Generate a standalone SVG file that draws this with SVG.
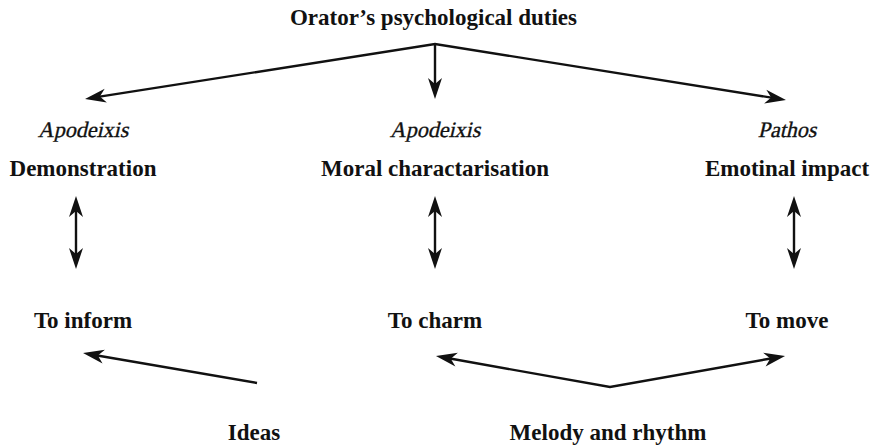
<svg xmlns="http://www.w3.org/2000/svg" width="875" height="448" viewBox="0 0 875 448">
<style>
  text { font-family: "Liberation Serif", "Times New Roman", serif; font-size: 23px; fill: #111; text-anchor: middle; }
  .b { font-weight: bold; }
  .i { font-size: 22px; stroke: #111; stroke-width: 0.35; }
  .c { stroke: #111; stroke-width: 2.4; fill: none; }
</style>
<defs>
  <marker id="ah" markerUnits="userSpaceOnUse" markerWidth="28" markerHeight="18" viewBox="-14 -9 28 18" refX="0" refY="0" orient="auto-start-reverse">
    <path d="M10,0 L-11,-7 L-5,0 L-11,7 Z" fill="#111"/>
  </marker>
</defs>
<g id="title"><text class="b" x="433.5" y="25">Orator’s psychological duties</text></g>
<g id="demonstration"><text class="i" transform="translate(83,137) skewX(-13)">Apodeixis</text><text class="b" x="83" y="176">Demonstration</text></g>
<g id="moral"><text class="i" transform="translate(435,137) skewX(-13)">Apodeixis</text><text class="b" x="435" y="176">Moral charactarisation</text></g>
<g id="emotional"><text class="i" transform="translate(787,137) skewX(-13)">Pathos</text><text class="b" x="787" y="176">Emotinal impact</text></g>
<g id="inform"><text class="b" x="83" y="328">To inform</text></g>
<g id="charm"><text class="b" x="435" y="328">To charm</text></g>
<g id="move"><text class="b" x="787" y="328">To move</text></g>
<g id="ideas"><text class="b" x="254" y="440">Ideas</text></g>
<g id="melody"><text class="b" x="608" y="440">Melody and rhythm</text></g>
<g id="connectors">
  <polyline class="c" points="94.9,97.4 435,44 776.1,98.4" marker-start="url(#ah)" marker-end="url(#ah)"/>
  <line class="c" x1="435" y1="44" x2="435" y2="89" marker-end="url(#ah)"/>
  <line class="c" x1="76" y1="206" x2="76" y2="259" marker-start="url(#ah)" marker-end="url(#ah)"/>
  <line class="c" x1="435" y1="206" x2="435" y2="259" marker-start="url(#ah)" marker-end="url(#ah)"/>
  <line class="c" x1="794" y1="206" x2="794" y2="259" marker-start="url(#ah)" marker-end="url(#ah)"/>
  <line class="c" x1="257" y1="383" x2="92.9" y2="354.7" marker-end="url(#ah)"/>
  <polyline class="c" points="445.8,357.8 610,387 775.2,357.7" marker-start="url(#ah)" marker-end="url(#ah)"/>
</g>
</svg>
